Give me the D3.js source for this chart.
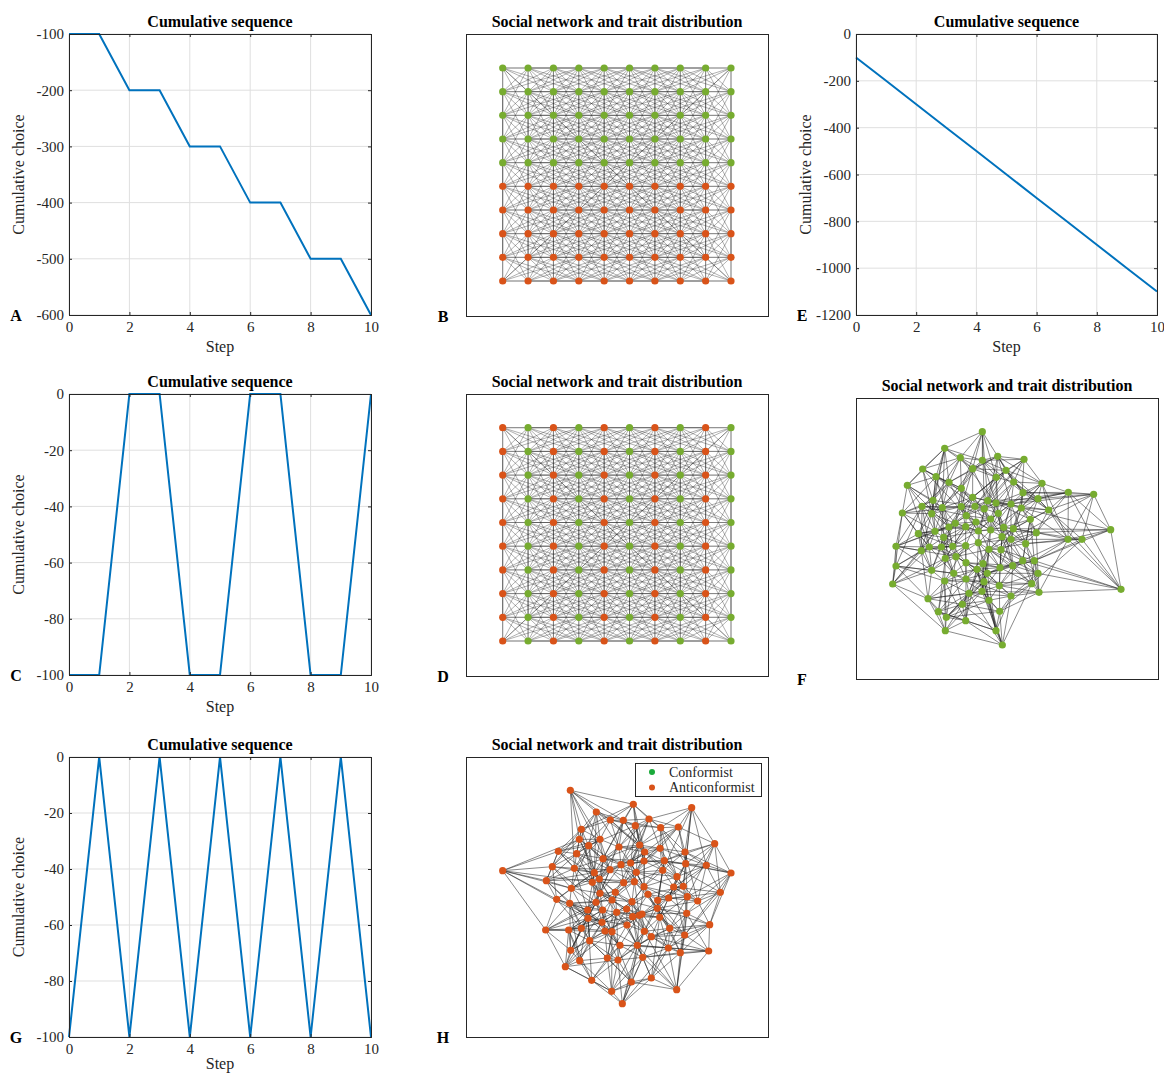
<!DOCTYPE html>
<html><head><meta charset="utf-8">
<script src="https://cdn.jsdelivr.net/npm/d3@7"></script>
<style>
body{margin:0;background:#fff;}
svg{display:block;font-family:"Liberation Serif","DejaVu Serif",serif;}
</style></head>
<body>
<svg id="chart" width="1164" height="1074"></svg>
<script>
// ---------------- DATA ----------------
const steps = [0,1,2,3,4,5,6,7,8,9,10];
const xTicks = [0,2,4,6,8,10];
const seqA = [-100,-100,-200,-200,-300,-300,-400,-400,-500,-500,-600];
const ticksA = [-600,-500,-400,-300,-200,-100];
const seqC = [-100,-100,0,0,-100,-100,0,0,-100,-100,0];
const ticksC = [-100,-80,-60,-40,-20,0];
const seqE = [-100,-200,-300,-400,-500,-600,-700,-800,-900,-1000,-1100];
const ticksE = [-1200,-1000,-800,-600,-400,-200,0];
const seqG = [-100,0,-100,0,-100,0,-100,0,-100,0,-100];
const ticksG = [-100,-80,-60,-40,-20,0];

// lattice trait maps (rows top->bottom), C = conformist, A = anticonformist
const traitsB = ["CCCCCCCCCC","CCCCCCCCCC","CCCCCCCCCC","CCCCCCCCCC","CCCCCCCCCC",
                 "AAAAAAAAAA","AAAAAAAAAA","AAAAAAAAAA","AAAAAAAAAA","AAAAAAAAAA"];
const traitsD = ["ACACACACAC","ACACACACAC","ACACACACAC","ACACACACAC","ACACACACAC",
                 "ACACACACAC","ACACACACAC","ACACACACAC","ACACACACAC","ACACACACAC"];

// random-network node layouts (layout units)
const nodesF = [[379,95],[266,145],[313,173],[379,181],[425,169],[504,178],[200,207],[350,206],[450,211],[240,230],
[279,247],[421,232],[473,246],[558,250],[154,256],[316,265],[501,278],[637,277],[713,283],[231,301],
[350,292],[395,302],[420,309],[465,312],[546,296],[198,319],[259,323],[316,320],[357,319],[385,326],
[427,340],[496,324],[578,330],[139,339],[227,341],[331,347],[360,366],[404,357],[523,358],[279,381],
[298,370],[329,380],[443,382],[472,386],[187,401],[237,394],[263,412],[367,393],[404,390],[438,410],
[465,418],[541,398],[636,418],[678,418],[764,389],[120,439],[196,452],[220,441],[256,441],[290,439],
[329,437],[367,428],[399,448],[435,449],[509,431],[268,475],[300,470],[330,488],[381,491],[432,503],
[470,497],[500,482],[535,482],[120,498],[227,511],[293,520],[363,508],[394,520],[546,520],[110,552],
[266,543],[330,537],[384,545],[430,557],[527,551],[549,577],[795,568],[216,596],[339,580],[378,574],
[465,588],[399,601],[319,613],[247,635],[271,652],[431,634],[329,662],[268,692],[420,692],[439,735]];
const nodesH = [[313,91],[502,133],[677,143],[391,156],[433,180],[472,181],[508,197],[549,177],[584,203],[637,201],
[346,208],[340,238],[402,238],[459,261],[521,255],[746,251],[277,274],[332,281],[368,257],[536,276],
[582,265],[657,276],[411,296],[494,309],[465,314],[534,303],[595,302],[659,311],[721,316],[110,332],
[259,320],[325,325],[432,329],[511,337],[590,331],[795,339],[241,362],[379,367],[400,357],[385,338],
[473,368],[505,365],[534,380],[623,381],[633,350],[652,379],[316,385],[402,400],[448,397],[546,403],
[763,397],[272,418],[311,430],[390,427],[438,420],[498,425],[575,421],[608,414],[664,410],[695,423],
[365,450],[410,450],[452,457],[482,447],[520,466],[574,445],[366,475],[408,487],[500,470],[528,462],
[581,472],[662,460],[239,510],[308,510],[346,505],[417,513],[438,515],[483,495],[535,514],[556,530],
[611,505],[656,525],[731,494],[371,542],[462,556],[514,556],[607,564],[643,578],[728,573],[314,571],
[341,602],[424,594],[456,600],[530,592],[298,620],[377,661],[496,666],[556,654],[437,694],[632,689],[469,731]];
const traitF = "C";
const traitH = "A";
const legendLabels = ["Conformist","Anticonformist"];

// ---------------- STYLE ----------------
const BLUE = "#0072bd", GREEN = "#77ac30", ORANGE = "#d95319", LEG_GREEN = "#1aaa3a";
const AX = "#262626", GRID = "#dfdfdf";
const svg = d3.select("#chart");

function lineChart(o){
  const g = svg.append("g");
  const x = d3.scaleLinear().domain([0,10]).range([o.x0,o.x1]);
  const y = d3.scaleLinear().domain(o.yd).range([o.y1,o.y0]);
  g.selectAll(".gx").data(xTicks).join("line")
    .attr("x1",d=>x(d)).attr("x2",d=>x(d)).attr("y1",o.y0).attr("y2",o.y1)
    .attr("stroke",GRID).attr("stroke-width",1);
  g.selectAll(".gy").data(o.ticks).join("line")
    .attr("y1",d=>y(d)).attr("y2",d=>y(d)).attr("x1",o.x0).attr("x2",o.x1)
    .attr("stroke",GRID).attr("stroke-width",1);
  g.append("path").datum(steps.map((s,i)=>[s,o.vals[i]]))
    .attr("d",d3.line().x(d=>x(d[0])).y(d=>y(d[1])))
    .attr("fill","none").attr("stroke",BLUE).attr("stroke-width",2);
  g.append("g").attr("transform",`translate(0,${o.y1})`)
    .call(d3.axisBottom(x).tickValues(xTicks).tickSize(-3).tickPadding(6).tickFormat(d=>String(d)));
  g.append("g").attr("transform",`translate(${o.x0},0)`)
    .call(d3.axisLeft(y).tickValues(o.ticks).tickSize(-3).tickPadding(5).tickFormat(d=>String(d)));
  g.append("g").attr("transform",`translate(0,${o.y0})`)
    .call(d3.axisTop(x).tickValues(xTicks).tickSize(-3).tickFormat(""));
  g.append("g").attr("transform",`translate(${o.x1},0)`)
    .call(d3.axisRight(y).tickValues(o.ticks).tickSize(-3).tickFormat(""));
  g.selectAll(".domain").attr("stroke",AX).attr("stroke-width",1);
  g.selectAll(".tick line").attr("stroke",AX);
  g.selectAll(".tick text").attr("fill",AX).style("font-size","15px")
    .style("font-family",'"Liberation Serif",serif');
  g.append("text").attr("x",(o.x0+o.x1)/2).attr("y",o.y0-7).attr("text-anchor","middle")
    .style("font-size","16px").style("font-weight","bold").attr("fill","#000").text("Cumulative sequence");
  g.append("text").attr("x",(o.x0+o.x1)/2).attr("y",Math.min(o.y1+37,1069)).attr("text-anchor","middle")
    .style("font-size","16px").attr("fill",AX).text("Step");
  g.append("text").attr("transform",`translate(${o.ylx},${(o.y0+o.y1)/2}) rotate(-90)`)
    .attr("text-anchor","middle").style("font-size","16px").attr("fill",AX).text("Cumulative choice");
  g.append("text").attr("x",o.lx).attr("y",o.y1+6).attr("text-anchor","middle")
    .style("font-size","16px").style("font-weight","bold").attr("fill","#000").text(o.letter);
}

lineChart({x0:69,x1:371,y0:34,y1:315,yd:[-600,-100],ticks:ticksA,vals:seqA,letter:"A",lx:16,ylx:24});
lineChart({x0:69,x1:371,y0:394,y1:675,yd:[-100,0],ticks:ticksC,vals:seqC,letter:"C",lx:16,ylx:24});
lineChart({x0:69,x1:371,y0:757,y1:1037,yd:[-100,0],ticks:ticksG,vals:seqG,letter:"G",lx:16,ylx:24});
lineChart({x0:856,x1:1157,y0:34,y1:315,yd:[-1200,0],ticks:ticksE,vals:seqE,letter:"E",lx:802,ylx:811});

function panelFrame(b,letter,title,lx){
  svg.append("rect").attr("x",b.x0+0.5).attr("y",b.y0+0.5).attr("width",b.x1-b.x0).attr("height",b.y1-b.y0)
    .attr("fill","none").attr("stroke",AX).attr("stroke-width",1);
  svg.append("text").attr("x",(b.x0+b.x1)/2).attr("y",b.y0-7).attr("text-anchor","middle")
    .style("font-size","16px").style("font-weight","bold").attr("fill","#000").text(title);
  svg.append("text").attr("x",lx).attr("y",b.y1+6).attr("text-anchor","middle")
    .style("font-size","16px").style("font-weight","bold").attr("fill","#000").text(letter);
}
const colorOf = t => t==="C" ? GREEN : ORANGE;

// lattice neighbourhood offsets [dcol, drow]
const latticeOffsets = [[1,0],[2,0],[0,1],[0,2],[1,1],[-1,1],[2,1],[-2,1],[1,2],[-1,2],[3,1],[-3,1]];

function lattice(b,traits,letter){
  panelFrame(b,letter,"Social network and trait distribution",443);
  const n = traits.length;
  const x = d3.scaleLinear().domain([0,n-1]).range([b.gx0,b.gx1]);
  const y = d3.scaleLinear().domain([0,n-1]).range([b.gy0,b.gy1]);
  const nodes = [];
  traits.forEach((row,r)=>row.split("").forEach((t,c)=>nodes.push({r,c,t})));
  const edges = [];
  nodes.forEach(nd=>latticeOffsets.forEach(([dc,dr])=>{
    const c2=nd.c+dc, r2=nd.r+dr;
    if(c2>=0&&c2<n&&r2>=0&&r2<n) edges.push([nd,{r:r2,c:c2}]);
  }));
  edges.push([{r:0,c:0},{r:n-1,c:n-1}]);
  edges.push([{r:0,c:n-1},{r:n-1,c:0}]);
  const g = svg.append("g");
  g.selectAll("line").data(edges).join("line")
    .attr("x1",d=>x(d[0].c)).attr("y1",d=>y(d[0].r)).attr("x2",d=>x(d[1].c)).attr("y2",d=>y(d[1].r))
    .attr("stroke","#262626").attr("stroke-opacity",0.4).attr("stroke-width",0.9);
  g.selectAll("circle").data(nodes).join("circle")
    .attr("cx",d=>x(d.c)).attr("cy",d=>y(d.r)).attr("r",3.6).attr("fill",d=>colorOf(d.t));
}
lattice({x0:466,x1:768,y0:34,y1:316,gx0:502.7,gx1:731,gy0:68,gy1:281},traitsB,"B");
lattice({x0:466,x1:768,y0:394,y1:676,gx0:502.7,gx1:731,gy0:427.7,gy1:641},traitsD,"D");

function randomNet(b,nodes,trait,letter,lx,legend){
  panelFrame(b,letter,"Social network and trait distribution",lx);
  const x = d3.scaleLinear().domain([0,906]).range([b.x0,b.x0+302]);
  const y = d3.scaleLinear().domain([0,840]).range([b.ly0,b.ly0+280]);
  const key = new Set(), edges = [];
  nodes.forEach((p,i)=>{
    const order = nodes.map((q,j)=>[j,Math.hypot(p[0]-q[0],p[1]-q[1])]).filter(d=>d[0]!==i)
      .sort((a,b)=>a[1]-b[1]);
    [0,1,2,3,4,6,9,13,18].forEach(k=>{
      const j = order[k][0];
      const kk = i<j ? i+"-"+j : j+"-"+i;
      if(!key.has(kk)){key.add(kk);edges.push([i,j]);}
    });
  });
  const g = svg.append("g");
  g.selectAll("line").data(edges).join("line")
    .attr("x1",d=>x(nodes[d[0]][0])).attr("y1",d=>y(nodes[d[0]][1]))
    .attr("x2",d=>x(nodes[d[1]][0])).attr("y2",d=>y(nodes[d[1]][1]))
    .attr("stroke","#262626").attr("stroke-opacity",0.6).attr("stroke-width",0.9);
  g.selectAll("circle").data(nodes).join("circle")
    .attr("cx",d=>x(d[0])).attr("cy",d=>y(d[1])).attr("r",3.6).attr("fill",colorOf(trait));
  if(legend){
    const lg = svg.append("g");
    lg.append("rect").attr("x",635.5).attr("y",763.5).attr("width",126).attr("height",33)
      .attr("fill","#fff").attr("stroke",AX).attr("stroke-width",1);
    const cols=[LEG_GREEN,ORANGE];
    legendLabels.forEach((t,i)=>{
      lg.append("circle").attr("cx",652).attr("cy",772+i*15.5).attr("r",3).attr("fill",cols[i]);
      lg.append("text").attr("x",669).attr("y",776.5+i*15.5).style("font-size","14px").attr("fill",AX).text(t);
    });
  }
}
randomNet({x0:856,x1:1158,y0:398,y1:679,ly0:400},nodesF,traitF,"F",802,false);
randomNet({x0:466,x1:768,y0:757,y1:1037,ly0:760},nodesH,traitH,"H",443,true);
</script>
</body></html>
